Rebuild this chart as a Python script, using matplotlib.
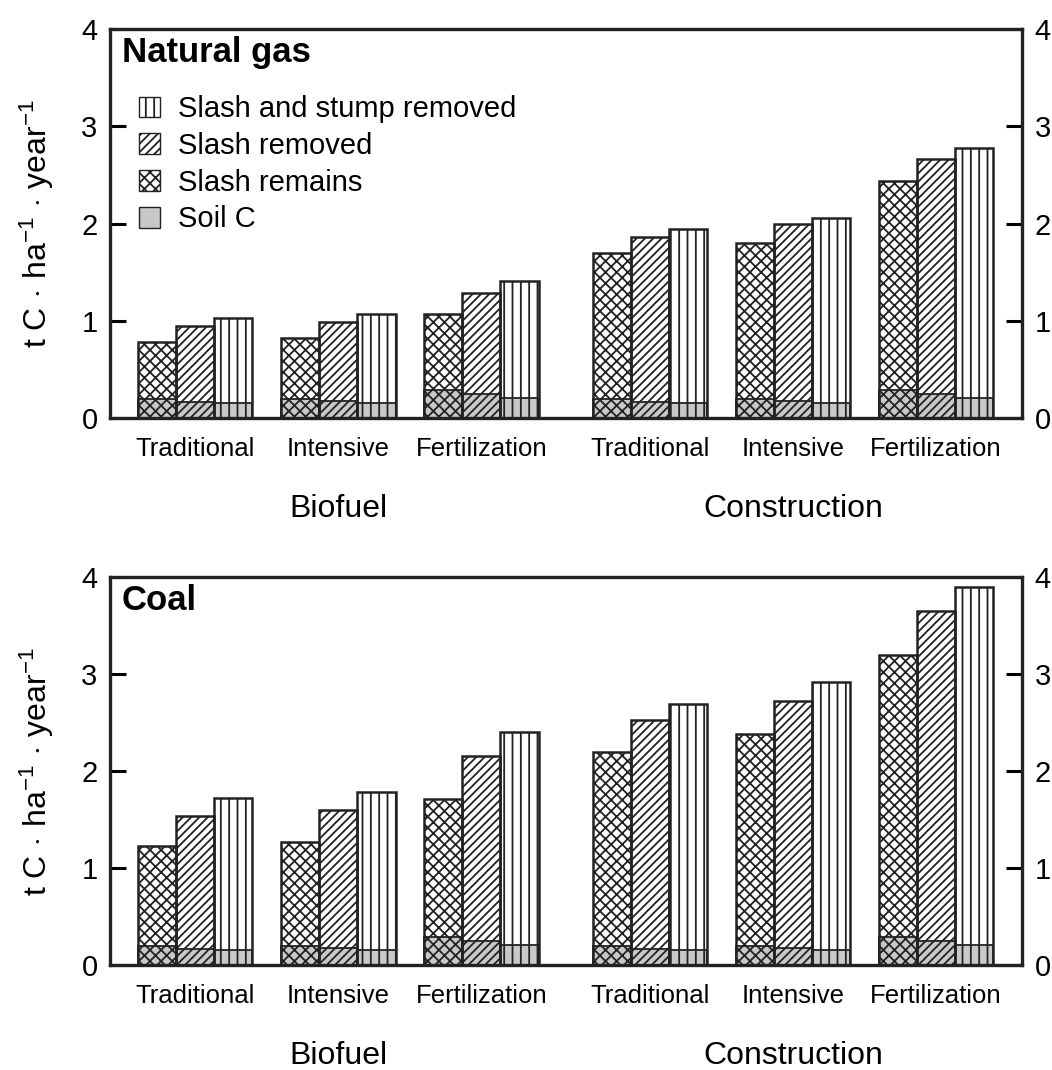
import numpy as np
import matplotlib.pyplot as plt
from matplotlib.patches import Patch
from matplotlib.transforms import blended_transform_factory

plt.rcParams['font.family'] = ['Liberation Sans', 'DejaVu Sans']
plt.rcParams['mathtext.fontset'] = 'custom'
plt.rcParams['mathtext.rm'] = 'Liberation Sans'
plt.rcParams['mathtext.it'] = 'Liberation Sans'
plt.rcParams['hatch.linewidth'] = 1.3

# data
treatments = ["Traditional", "Intensive", "Fertilization",
              "Traditional", "Intensive", "Fertilization"]
uses = ["Biofuel", "Construction"]
series = ["Slash remains", "Slash removed", "Slash and stump removed"]

# soil C part (same in both panels)
soil_c = [[0.20, 0.17, 0.15], [0.20, 0.18, 0.15], [0.29, 0.25, 0.21],
          [0.20, 0.17, 0.15], [0.20, 0.18, 0.15], [0.29, 0.25, 0.21]]

# totals: natural gas
gas_total = [[0.78, 0.95, 1.03], [0.82, 0.99, 1.07], [1.07, 1.29, 1.41],
             [1.70, 1.86, 1.94], [1.80, 1.99, 2.06], [2.44, 2.66, 2.78]]

# totals: coal
coal_total = [[1.23, 1.54, 1.72], [1.27, 1.60, 1.78], [1.71, 2.16, 2.40],
              [2.20, 2.53, 2.69], [2.38, 2.72, 2.92], [3.20, 3.65, 3.90]]

hatches = ['xxx', '////', '||']
group_x = np.array([0, 1, 2, 3.18, 4.18, 5.18])
bw = 0.267


def draw_panel(ax, totals, title):
    totals = np.array(totals)
    soil = np.array(soil_c)
    for j in range(3):
        xs = group_x + (j - 1) * bw
        ax.bar(xs, soil[:, j], width=bw, color='#c8c8c8',
               edgecolor='#222222', linewidth=1.3, zorder=2)
        ax.bar(xs, totals[:, j], width=bw, facecolor='none',
               edgecolor='#222222', hatch=hatches[j], linewidth=1.8, zorder=3)

    ax.set_xlim(-0.595, 5.78)
    ax.set_ylim(0, 4)
    ax.set_yticks([0, 1, 2, 3, 4])
    ax.set_xticks(group_x)
    ax.set_xticklabels(treatments, fontsize=18.5)
    ax.tick_params(axis='x', length=0, pad=14)
    ax.tick_params(axis='y', direction='in', length=11.5, width=2.2,
                   labelsize=21, right=True, labelright=True, pad=9)
    for sp in ax.spines.values():
        sp.set_linewidth(2.4)
        sp.set_color('#222222')

    tr = blended_transform_factory(ax.transData, ax.transAxes)
    ax.text(np.mean(group_x[:3]), -0.235, uses[0], transform=tr,
            ha='center', va='center', fontsize=23)
    ax.text(np.mean(group_x[3:]), -0.235, uses[1], transform=tr,
            ha='center', va='center', fontsize=23)

    ax.text(0.013, 0.94, title, transform=ax.transAxes, fontsize=25,
            fontweight='bold', va='center', ha='left')
    ax.set_ylabel(r"t C$\,\cdot\,$ha$^{\mathregular{-1}}$$\,\cdot\,$year$^{\mathregular{-1}}$",
                  fontsize=23, labelpad=18)


fig = plt.figure(figsize=(10.52, 10.70), dpi=100)
ax1 = fig.add_axes([0.1046, 0.6093, 0.8669, 0.3636])
ax2 = fig.add_axes([0.1046, 0.0981, 0.8669, 0.3626])

draw_panel(ax1, gas_total, "Natural gas")
draw_panel(ax2, coal_total, "Coal")

handles = [Patch(facecolor='white', edgecolor='#222222', hatch='||'),
           Patch(facecolor='white', edgecolor='#222222', hatch='////'),
           Patch(facecolor='white', edgecolor='#222222', hatch='xxx'),
           Patch(facecolor='#c8c8c8', edgecolor='#222222')]
labels = ["Slash and stump removed", "Slash removed", "Slash remains", "Soil C"]
ax1.legend(handles, labels, loc='upper left', bbox_to_anchor=(0.0, 0.905),
           frameon=False, fontsize=21, handlelength=0.72, handleheight=0.72,
           handletextpad=0.6, labelspacing=0.3, borderaxespad=0.6)

fig.savefig("out.png", dpi=100)
